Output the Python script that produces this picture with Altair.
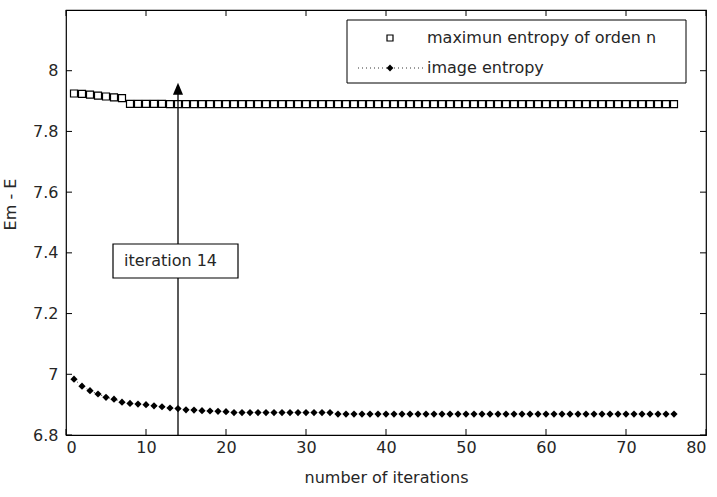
import altair as alt
import pandas as pd

# ---- data -------------------------------------------------------------
iterations = list(range(1, 77))

max_entropy = [
    7.925, 7.924, 7.921, 7.918, 7.915, 7.912, 7.910,
    7.891, 7.891, 7.891, 7.891, 7.891, 7.890, 7.890, 7.890, 7.890, 7.890,
    7.890, 7.890, 7.890, 7.890, 7.890, 7.890, 7.890, 7.890, 7.890, 7.890,
    7.890, 7.890, 7.890, 7.890, 7.890, 7.890, 7.890, 7.890, 7.890, 7.890,
    7.890, 7.890, 7.890, 7.890, 7.890, 7.890, 7.890, 7.890, 7.890, 7.890,
    7.890, 7.890, 7.890, 7.890, 7.890, 7.890, 7.890, 7.890, 7.890, 7.890,
    7.890, 7.890, 7.890, 7.890, 7.890, 7.890, 7.890, 7.890, 7.890, 7.890,
    7.890, 7.890, 7.890, 7.890, 7.890, 7.890, 7.890, 7.890, 7.890,
]

image_entropy = [
    6.984, 6.961, 6.946, 6.935, 6.924, 6.918, 6.908, 6.904, 6.902, 6.900,
    6.896, 6.893, 6.889, 6.887, 6.883, 6.882, 6.880, 6.879, 6.878, 6.877,
    6.874, 6.874, 6.874, 6.874, 6.874, 6.874, 6.874, 6.874, 6.874, 6.874,
    6.874, 6.874, 6.874,
    6.869, 6.869, 6.869, 6.869, 6.869, 6.869, 6.869, 6.869, 6.869, 6.869,
    6.869, 6.869, 6.869, 6.869, 6.869, 6.869, 6.869, 6.869, 6.869, 6.869,
    6.869, 6.869, 6.869, 6.869, 6.869, 6.869, 6.869, 6.869, 6.869, 6.869,
    6.869, 6.869, 6.869, 6.869, 6.869, 6.869, 6.869, 6.869, 6.869, 6.869,
    6.869, 6.869, 6.869,
]

x_ticks = [0, 10, 20, 30, 40, 50, 60, 70, 80]
y_ticks = [6.8, 7.0, 7.2, 7.4, 7.6, 7.8, 8.0]

legend_labels = ["maximun entropy of orden n", "image entropy"]
annotation_label = "iteration 14"
arrow_iteration = 14
arrow_base = 6.8
arrow_tip = 7.96

FONT = "DejaVu Sans"
TEXT = "#262626"
W, H = 640, 425

df = pd.DataFrame({"it": iterations, "em": max_entropy, "e": image_entropy})
xt = pd.DataFrame({"t": x_ticks})
yt = pd.DataFrame({"t": y_ticks})
one = pd.DataFrame({"k": [0]})

x_scale = alt.Scale(domain=[0, 80], nice=False, zero=False)
y_scale = alt.Scale(domain=[6.8, 8.2], nice=False, zero=False)

# one shared axis definition per channel, reused by every layer
x_axis = alt.Axis(
    values=x_ticks, ticks=False, domain=False, grid=False, labelPadding=4,
    labelFont=FONT, labelFontSize=16, labelColor=TEXT,
    title="number of iterations", titleFont=FONT, titleFontSize=16,
    titleFontWeight="normal", titleColor=TEXT, titlePadding=14)
y_axis = alt.Axis(
    values=y_ticks, format="~g", ticks=False, domain=False, grid=False,
    labelPadding=8, labelFont=FONT, labelFontSize=16, labelColor=TEXT,
    title="Em - E", titleFont=FONT, titleFontSize=16, titleFontWeight="normal",
    titleColor=TEXT, titleX=-56, titleY=194, titleAngle=270,
    titleBaseline="middle", titleAlign="center")


def X(field):
    return alt.X(field, scale=x_scale, axis=x_axis)


def Y(field):
    return alt.Y(field, scale=y_scale, axis=y_axis)


# ---- series -----------------------------------------------------------
squares = alt.Chart(df).mark_point(
    shape="square", size=49, filled=False, color="black", strokeWidth=1.2, opacity=1
).encode(x=X("it:Q"), y=Y("em:Q"))

dots_line = alt.Chart(df).mark_line(
    color="black", strokeWidth=0.8, strokeDash=[1, 3]
).encode(x=X("it:Q"), y=Y("e:Q"))

diamonds = alt.Chart(df).mark_point(
    shape="diamond", size=52, filled=True, color="black", opacity=1
).encode(x=X("it:Q"), y=Y("e:Q"))

# ---- inward ticks on all four sides ------------------------------------
tick_style = dict(color="black", strokeWidth=1)
tick_bottom = alt.Chart(xt).mark_rule(**tick_style).encode(
    x=X("t:Q"), y=alt.value(H), y2=alt.value(H - 6))
tick_top = alt.Chart(xt).mark_rule(**tick_style).encode(
    x=X("t:Q"), y=alt.value(0), y2=alt.value(6))
tick_left = alt.Chart(yt).mark_rule(**tick_style).encode(
    y=Y("t:Q"), x=alt.value(0), x2=alt.value(6))
tick_right = alt.Chart(yt).mark_rule(**tick_style).encode(
    y=Y("t:Q"), x=alt.value(W), x2=alt.value(W - 6))

# ---- arrow with its annotation box --------------------------------------
arrow_df = pd.DataFrame({"x": [arrow_iteration], "y0": [arrow_base],
                         "y1": [arrow_tip - 0.03], "tip": [arrow_tip]})
arrow_shaft = alt.Chart(arrow_df).mark_rule(color="black", strokeWidth=1.3).encode(
    x=X("x:Q"), y=Y("y0:Q"), y2="y1:Q")
arrow_head = alt.Chart(arrow_df).mark_point(
    shape="M0,0L-0.42,1L0.42,1Z", size=576, filled=True, color="black",
    strokeWidth=0, opacity=1
).encode(x=X("x:Q"), y=Y("tip:Q"))

note_box = alt.Chart(one).mark_rect(
    fill="white", stroke="black", strokeWidth=1.2
).encode(x=alt.value(47), x2=alt.value(172), y=alt.value(234), y2=alt.value(268))
note_text = alt.Chart(pd.DataFrame({"label": [annotation_label]})).mark_text(
    align="left", baseline="middle", font=FONT, fontSize=16, color=TEXT
).encode(x=alt.value(58), y=alt.value(251), text="label:N")

# ---- legend --------------------------------------------------------------
leg_box = alt.Chart(one).mark_rect(
    fill="white", stroke="black", strokeWidth=1
).encode(x=alt.value(281), x2=alt.value(620), y=alt.value(10), y2=alt.value(73))
leg_square = alt.Chart(one).mark_point(
    shape="square", size=36, filled=False, color="black", strokeWidth=1.2, opacity=1
).encode(x=alt.value(324), y=alt.value(28))
leg_line = alt.Chart(one).mark_rule(
    color="black", strokeWidth=0.8, strokeDash=[1, 3]
).encode(x=alt.value(292), x2=alt.value(360), y=alt.value(58))
leg_diamond = alt.Chart(one).mark_point(
    shape="diamond", size=46, filled=True, color="black", opacity=1
).encode(x=alt.value(324), y=alt.value(58))
leg_text1 = alt.Chart(pd.DataFrame({"label": [legend_labels[0]]})).mark_text(
    align="left", baseline="middle", font=FONT, fontSize=16, color=TEXT
).encode(x=alt.value(361), y=alt.value(28), text="label:N")
leg_text2 = alt.Chart(pd.DataFrame({"label": [legend_labels[1]]})).mark_text(
    align="left", baseline="middle", font=FONT, fontSize=16, color=TEXT
).encode(x=alt.value(361), y=alt.value(58), text="label:N")

chart = alt.layer(
    squares, dots_line, diamonds,
    tick_bottom, tick_top, tick_left, tick_right,
    arrow_shaft, arrow_head, note_box, note_text,
    leg_box, leg_square, leg_line, leg_diamond, leg_text1, leg_text2,
).properties(
    width=W, height=H, autosize="none", background="white",
    padding={"left": 66, "top": 10, "right": 11, "bottom": 62},
).configure_view(stroke="black", strokeWidth=1.2)

chart.save("out.html", embed_options={"renderer": "svg", "actions": False})
